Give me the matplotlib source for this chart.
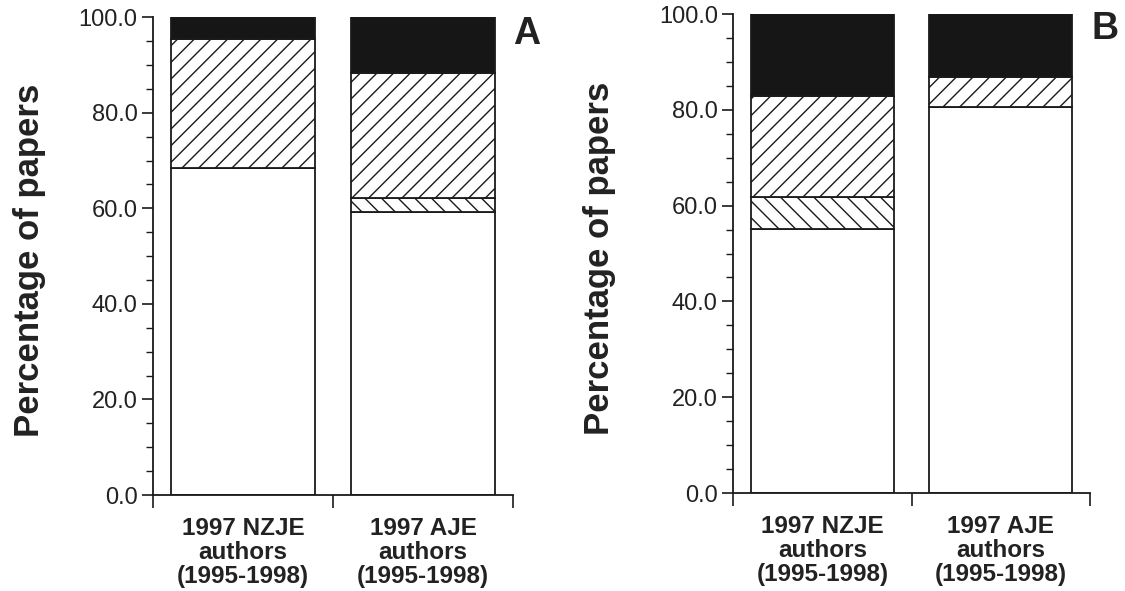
import matplotlib
matplotlib.use("Agg")
import matplotlib.pyplot as plt
import numpy as np
from matplotlib.ticker import MultipleLocator, FixedLocator, FormatStrFormatter

plt.rcParams['font.family'] = ['Liberation Sans', 'DejaVu Sans']
plt.rcParams['hatch.linewidth'] = 1.0

categories = ["1997 NZJE\nauthors\n(1995-1998)", "1997 AJE\nauthors\n(1995-1998)"]

# Panel A segments (bottom to top)
A_white = [68.5, 59.2]
A_back = [0.0, 2.9]
A_fwd = [27.0, 26.2]
A_black = [4.5, 11.7]

# Panel B segments (bottom to top)
B_white = [55.2, 80.5]
B_back = [6.7, 0.0]
B_fwd = [21.0, 6.4]
B_black = [17.1, 13.1]

panels = [
    ("A", [A_white, A_back, A_fwd, A_black], [0.136, 0.1624, 0.320, 0.8086], (527, 34), -0.297),
    ("B", [B_white, B_back, B_fwd, B_black], [0.6516, 0.1658, 0.3174, 0.8105], (1105, 29), -0.329),
]

styles = [
    dict(facecolor="white", hatch=None),
    dict(facecolor="white", hatch="\\\\"),
    dict(facecolor="white", hatch="//"),
    dict(facecolor="#161616", hatch=None),
]

ink = "#1a1a1a"
W, H = 1125, 591
fig = plt.figure(figsize=(W / 100, H / 100), dpi=100)

for letter, segs, rect, lpos, labx in panels:
    ax = fig.add_axes(rect)
    x = np.arange(len(categories)) + 0.5
    bottom = np.zeros(len(categories))
    for vals, st in zip(segs, styles):
        vals = np.array(vals)
        ax.bar(x, vals, width=0.8, bottom=bottom, facecolor=st["facecolor"],
               edgecolor=ink, linewidth=1.3, hatch=st["hatch"], zorder=2)
        bottom = bottom + vals
    ax.set_xlim(0, 2)
    ax.set_ylim(0, 100)
    for s in ["top", "right"]:
        ax.spines[s].set_visible(False)
    for s in ["left", "bottom"]:
        ax.spines[s].set_linewidth(1.3)
        ax.spines[s].set_color(ink)
    ax.yaxis.set_major_locator(MultipleLocator(20))
    ax.yaxis.set_minor_locator(MultipleLocator(5))
    ax.yaxis.set_major_formatter(FormatStrFormatter("%.1f"))
    ax.tick_params(axis="y", which="major", length=8, width=1.2, color=ink,
                   labelsize=17, labelcolor="#222222", pad=3)
    ax.tick_params(axis="y", which="minor", length=5, width=1.0, color=ink)
    ax.xaxis.set_major_locator(FixedLocator([0, 1, 2]))
    ax.xaxis.set_minor_locator(FixedLocator(x))
    ax.xaxis.set_major_formatter(plt.NullFormatter())
    ax.xaxis.set_minor_formatter(plt.FixedFormatter(categories))
    ax.tick_params(axis="x", which="major", length=9, width=1.2, color=ink)
    ax.tick_params(axis="x", which="minor", length=0, pad=16, labelsize=17.5,
                   labelcolor="#222222")
    for lab in ax.xaxis.get_minorticklabels():
        lab.set_fontweight("bold")
        lab.set_linespacing(1.05)
    ax.set_ylabel("Percentage of papers", fontsize=25, fontweight="bold",
                  color="#222222")
    ax.yaxis.set_label_coords(labx, 0.49)
    fig.text(lpos[0] / W, 1 - lpos[1] / H, letter, fontsize=27,
             fontweight="bold", color="#222222", ha="center", va="center")

fig.savefig("out.png", dpi=100)
